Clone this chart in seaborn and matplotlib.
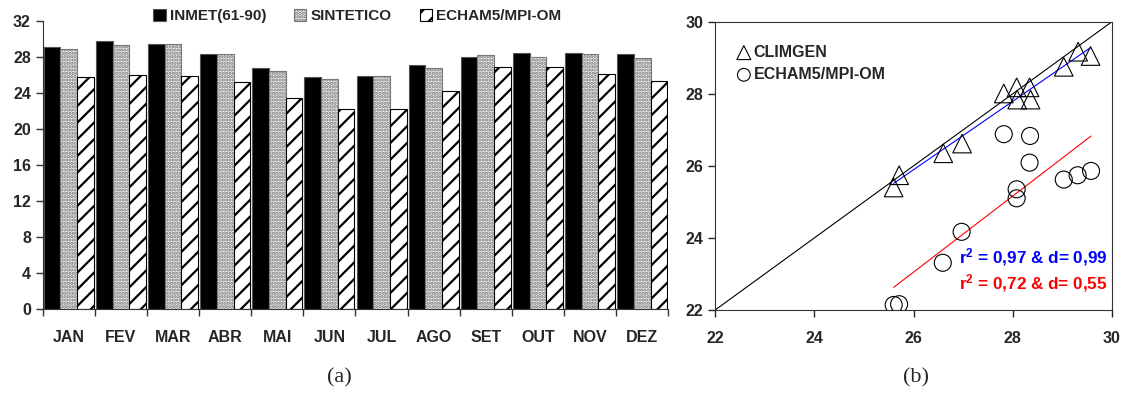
import numpy as np
import pandas as pd
import matplotlib
matplotlib.use("Agg")
import matplotlib.pyplot as plt
import seaborn as sns

# Monthly mean temperature (panel a)
months = ['JAN', 'FEV', 'MAR', 'ABR', 'MAI', 'JUN', 'JUL', 'AGO', 'SET', 'OUT', 'NOV', 'DEZ']
inmet = [29.1, 29.7, 29.4, 28.3, 26.7, 25.8, 25.9, 27.1, 28.0, 28.4, 28.4, 28.3]
sintetico = [28.8, 29.3, 29.4, 28.3, 26.4, 25.5, 25.9, 26.7, 28.2, 28.0, 28.3, 27.9]
echam = [25.7, 26.0, 25.9, 25.2, 23.4, 22.2, 22.2, 24.2, 26.9, 26.9, 26.1, 25.3]
series_names = ['INMET(61-90)', 'SINTETICO', 'ECHAM5/MPI-OM']

# Observed vs simulated (panel b)
obs = [25.60, 25.71, 26.60, 26.98, 27.82, 28.08, 28.09, 28.34, 28.36, 29.03, 29.32, 29.57]
climgen = [25.40, 25.74, 26.35, 26.62, 28.01, 28.18, 27.84, 28.18, 27.84, 28.75, 29.17, 29.05]
obs_c = [25.60, 25.71, 26.59, 26.97, 27.82, 28.08, 28.08, 28.34, 28.35, 29.03, 29.31, 29.58]
echam_sim = [22.14, 22.16, 23.31, 24.17, 26.88, 25.35, 25.10, 26.09, 26.83, 25.62, 25.74, 25.86]

sns.set_style("ticks")
plt.rcParams['font.family'] = ['Liberation Sans', 'DejaVu Sans']
plt.rcParams['mathtext.fontset'] = 'custom'
plt.rcParams['mathtext.rm'] = 'Liberation Sans'
plt.rcParams['mathtext.bf'] = 'Liberation Sans:bold'
plt.rcParams['hatch.linewidth'] = 1.6

fig = plt.figure(figsize=(11.28, 3.96), dpi=100)
ax1 = fig.add_axes([0.0379, 0.219, 0.5545, 0.729])
ax2 = fig.add_axes([0.634, 0.2172, 0.3517, 0.7278])

# ---- panel (a): bars
df = pd.DataFrame({
    'mes': months * 3,
    'temp': inmet + sintetico + echam,
    'serie': [series_names[0]] * 12 + [series_names[1]] * 12 + [series_names[2]] * 12,
})
sns.barplot(data=df, x='mes', y='temp', hue='serie', order=months, hue_order=series_names,
            width=0.96, ax=ax1, legend=False, errorbar=None)

styles = [dict(fc='black', ec='#555555', hatch=None),
          dict(fc='#eeeeee', ec='#777777', hatch='.....'),
          dict(fc='white', ec='black', hatch='//')]
for cont, st in zip(ax1.containers, styles):
    for p in cont:
        p.set_facecolor(st['fc'])
        p.set_edgecolor(st['ec'])
        p.set_linewidth(0.8)
        if st['hatch']:
            p.set_hatch(st['hatch'])

ax1.set_ylim(0, 32)
ax1.set_xlim(-0.5, 11.5)
ax1.set_yticks(np.arange(0, 33, 4))
ax1.set_xticks(np.arange(-0.5, 12, 1))
ax1.set_xticklabels([])
ax1.set_xticks(np.arange(12), minor=True)
ax1.set_xticklabels(months, minor=True)
ax1.tick_params(axis='x', which='major', length=5, width=1, color='#333333')
ax1.tick_params(axis='x', which='minor', length=0, pad=15, labelsize=11.5)
ax1.tick_params(axis='y', length=5, width=1, color='#333333', labelsize=11.5)
for lab in ax1.get_xticklabels(minor=True) + ax1.get_yticklabels():
    lab.set_fontweight('bold')
ax1.set_xlabel('')
ax1.set_ylabel('')
sns.despine(ax=ax1)
ax1.spines['left'].set_color('#333333')
ax1.spines['bottom'].set_color('#333333')
ax1.legend(ax1.containers, series_names, loc='center', bbox_to_anchor=(0.503, 1.016), ncol=3,
           frameon=False, handlelength=0.8, handleheight=0.8, handletextpad=0.3,
           columnspacing=1.8, prop={'weight': 'bold', 'size': 11})

# ---- panel (b): scatter
ax2.plot([22, 30], [22, 30], color='black', lw=0.8, zorder=1)
sns.regplot(x=obs, y=climgen, scatter=False, ci=None, color='blue', line_kws={'lw': 0.8}, ax=ax2)
sns.regplot(x=obs_c, y=echam_sim, scatter=False, ci=None, color='red', line_kws={'lw': 0.8}, ax=ax2)
sns.scatterplot(x=obs, y=climgen, marker='^', s=180, facecolor='none', edgecolor='black',
                linewidth=0.8, ax=ax2, label='CLIMGEN', zorder=3)
sns.scatterplot(x=obs_c, y=echam_sim, marker='o', s=150, facecolor='none', edgecolor='black',
                linewidth=0.8, ax=ax2, label='ECHAM5/MPI-OM', zorder=3)
ax2.set_xlim(22, 30)
ax2.set_ylim(22, 30)
ax2.set_xticks(np.arange(22, 31, 2))
ax2.set_yticks(np.arange(22, 31, 2))
ax2.tick_params(length=5, width=1, labelsize=11.5)
ax2.tick_params(axis='x', pad=10)
for lab in ax2.get_xticklabels() + ax2.get_yticklabels():
    lab.set_fontweight('bold')
for sp in ax2.spines.values():
    sp.set_visible(True)
    sp.set_color('#333333')
ax2.legend(loc='upper left', bbox_to_anchor=(0.02, 0.97), frameon=False, markerscale=0.75,
           handlelength=0.8, handletextpad=0.2, labelspacing=0.45,
           prop={'weight': 'bold', 'size': 11.5})
ax2.text(0.615, 0.165, r'$\mathbf{r^2}$ = 0,97 & d= 0,99', transform=ax2.transAxes,
         color='blue', fontsize=12.3, fontweight='bold')
ax2.text(0.615, 0.072, r'$\mathbf{r^2}$ = 0,72 & d= 0,55', transform=ax2.transAxes,
         color='red', fontsize=12.3, fontweight='bold')

fig.text(0.301, 0.035, '(a)', family='Liberation Serif', fontsize=16, ha='center')
fig.text(0.812, 0.035, '(b)', family='Liberation Serif', fontsize=16, ha='center')

fig.savefig('out.png', dpi=100)
